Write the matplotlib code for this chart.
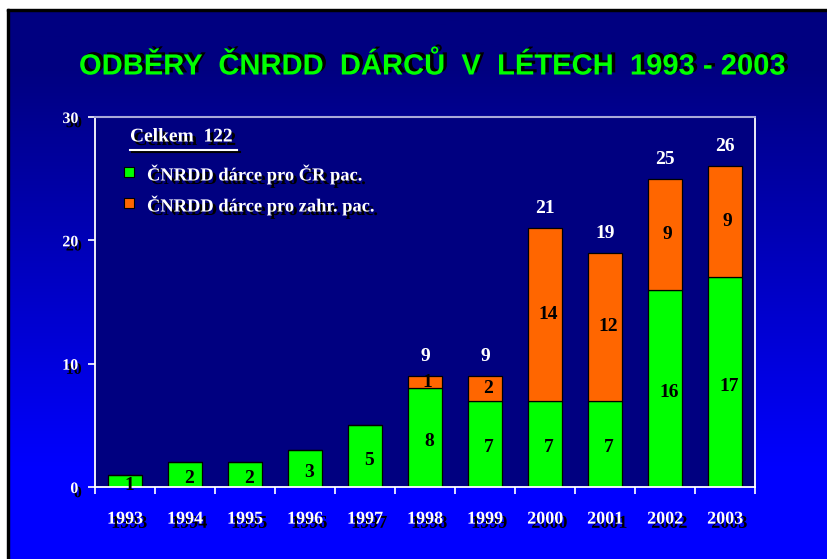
import numpy as np
import matplotlib
matplotlib.use('Agg')
import matplotlib.pyplot as plt
import matplotlib.patheffects as pe
from matplotlib.patches import Rectangle
from matplotlib.lines import Line2D

years = ['1993', '1994', '1995', '1996', '1997', '1998', '1999', '2000', '2001', '2002', '2003']
cr = [1, 2, 2, 3, 5, 8, 7, 7, 7, 16, 17]
zahr = [0, 0, 0, 0, 0, 1, 2, 14, 12, 9, 9]
yticks = [0, 10, 20, 30]
title = 'ODBĚRY  ČNRDD  DÁRCŮ  V  LÉTECH  1993 - 2003'
legend_title = 'Celkem  122'
legend_labels = ['ČNRDD dárce pro ČR pac.', 'ČNRDD dárce pro zahr. pac.']

green = '#00ff00'
orange = '#ff6600'
navy = '#000080'
W, H = 828, 559
serif = 'Liberation Serif'

def shadow(dx=2.8, dy=-2.8):
    return [pe.SimplePatchShadow(offset=(dx, dy), shadow_rgbFace='black', alpha=1.0), pe.Normal()]

fig = plt.figure(figsize=(W / 100, H / 100), dpi=100)

# slide background: vertical gradient navy -> blue
bg = fig.add_axes([0, 0, 1, 1], zorder=-10)
rows = np.linspace(0, 1, 300)
t = np.clip((rows - 0.12) / 0.72, 0, 1)
grad = np.zeros((300, 1, 3))
grad[:, 0, 2] = (0x80 + (0xff - 0x80) * t) / 255
bg.imshow(grad, aspect='auto', extent=[0, 1, 0, 1], origin='upper')
bg.set_xlim(0, 1)
bg.set_ylim(0, 1)
bg.axis('off')
# white margins and black frame
bg.add_patch(Rectangle((0, 1 - 9 / H), 1, 9 / H, color='white', zorder=2))
bg.add_patch(Rectangle((0, 0), 7 / W, 1, color='white', zorder=2))
bg.add_patch(Rectangle((7 / W, 1 - 11 / H), 1, 2 / H, color='black', zorder=3))
bg.add_patch(Rectangle((7 / W, 0), 2 / W, 1 - 9 / H, color='black', zorder=3))

fig.text(0.522, 1 - 66 / H, title, color=green, fontsize=21, fontweight='bold',
         family='Liberation Sans', ha='center', va='center',
         path_effects=[pe.SimplePatchShadow(offset=(2.5, 1.5), shadow_rgbFace='black', alpha=1.0), pe.Normal()])

ax = fig.add_axes([95 / W, 1 - 487 / H, 660 / W, 370 / H])
ax.set_facecolor(navy)
x = np.arange(len(years))
tot = [a + b for a, b in zip(cr, zahr)]
ax.bar(x, cr, width=0.57, color=green, edgecolor='black', linewidth=0.9)
ax.bar(x, zahr, bottom=cr, width=0.57, color=orange, edgecolor='black', linewidth=0.9)

for i in range(len(years)):
    ax.annotate(str(cr[i]), (x[i], cr[i] / 2), xytext=(3, -3), textcoords='offset points',
                ha='center', va='center', fontsize=14, fontweight='bold', family=serif, color='black')
    if zahr[i] > 0:
        ax.annotate(str(zahr[i]), (x[i], cr[i] + zahr[i] / 2), xytext=(2, 0), textcoords='offset points',
                    ha='center', va='center', fontsize=14, fontweight='bold', family=serif, color='black')
        ax.annotate(str(tot[i]), (x[i], tot[i]), xytext=(0, 14), textcoords='offset points',
                    ha='center', va='center', fontsize=14, fontweight='bold', family=serif, color='white')

ax.set_xlim(-0.5, len(years) - 0.5)
ax.set_ylim(0, 30)
ax.set_yticks(yticks)
ax.set_yticklabels([str(v) for v in yticks], fontsize=11.5, fontweight='bold', family=serif, color='white')
for lab in ax.get_yticklabels():
    lab.set_path_effects(shadow(2.5, -3))
ax.set_xticks(x)
ax.set_xticklabels(years, fontsize=13, fontweight='bold', family=serif, color='white')
for lab in ax.get_xticklabels():
    lab.set_path_effects(shadow(3, -3))
ax.set_xticks(np.arange(len(years) + 1) - 0.5, minor=True)
ax.tick_params(axis='x', which='major', length=0, pad=17)
ax.tick_params(axis='x', which='minor', length=5, color='white', width=1.2)
ax.tick_params(axis='y', length=5, color='white', width=1.2, pad=7)
for s in ['left', 'bottom', 'right']:
    ax.spines[s].set_color('white')
    ax.spines[s].set_linewidth(1.3)
ax.spines['top'].set_color('#a8a8d8')
ax.spines['top'].set_linewidth(1.5)

# legend drawn by hand
fig.text(130 / W, 1 - 137 / H, legend_title, color='white', fontsize=14, fontweight='bold',
         family=serif, ha='left', va='center', path_effects=shadow(2.5, -2.5))
fig.add_artist(Line2D([132 / W, 240 / W], [1 - 152 / H, 1 - 152 / H], color='black', lw=1.5))
fig.add_artist(Line2D([130 / W, 237 / W], [1 - 150 / H, 1 - 150 / H], color='white', lw=1.5))
for j, (lab, col) in enumerate(zip(legend_labels, [green, orange])):
    yc = 172 + 31 * j
    fig.add_artist(Rectangle((124 / W, 1 - (yc + 5) / H), 10 / W, 10 / H, facecolor=col,
                             edgecolor='black', lw=0.8))
    fig.text(147 / W, 1 - (yc + 2) / H, lab, color='white', fontsize=13.3, fontweight='bold',
             family=serif, ha='left', va='center', path_effects=shadow(2.5, -2.5))

fig.savefig('out.png', dpi=100)
